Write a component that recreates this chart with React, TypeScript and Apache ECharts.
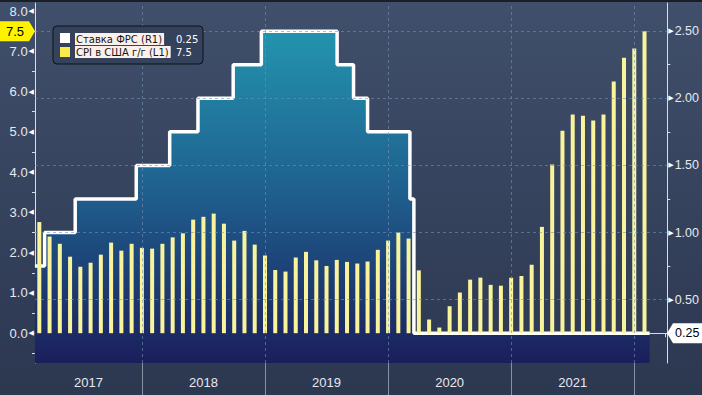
import React, { useEffect, useRef } from 'react';
import * as echarts from 'echarts';

// CPI USA y/y, month-end observations
const cpiMonths: string[] = [
  '2017-02', '2017-03', '2017-04', '2017-05', '2017-06', '2017-07', '2017-08', '2017-09', '2017-10', '2017-11', '2017-12',
  '2018-01', '2018-02', '2018-03', '2018-04', '2018-05', '2018-06', '2018-07', '2018-08', '2018-09', '2018-10', '2018-11', '2018-12',
  '2019-01', '2019-02', '2019-03', '2019-04', '2019-05', '2019-06', '2019-07', '2019-08', '2019-09', '2019-10', '2019-11', '2019-12',
  '2020-01', '2020-02', '2020-03', '2020-04', '2020-05', '2020-06', '2020-07', '2020-08', '2020-09', '2020-10', '2020-11', '2020-12',
  '2021-01', '2021-02', '2021-03', '2021-04', '2021-05', '2021-06', '2021-07', '2021-08', '2021-09', '2021-10', '2021-11', '2021-12',
  '2022-01',
];
const cpiValues: number[] = [
  2.76, 2.40, 2.22, 1.90, 1.65, 1.75, 1.95, 2.25, 2.05, 2.22, 2.12,
  2.10, 2.22, 2.38, 2.48, 2.82, 2.89, 2.97, 2.72, 2.30, 2.54, 2.20, 1.93,
  1.57, 1.53, 1.88, 2.02, 1.81, 1.67, 1.82, 1.77, 1.73, 1.78, 2.07, 2.30,
  2.50, 2.35, 1.56, 0.34, 0.14, 0.67, 1.01, 1.33, 1.38, 1.20, 1.18, 1.38,
  1.42, 1.70, 2.64, 4.19, 5.03, 5.43, 5.40, 5.28, 5.43, 6.25, 6.84, 7.07,
  7.50,
];

// Fed funds rate (upper bound), effective dates
const rateDates: string[] = [
  '2017-02-16', '2017-03-16', '2017-06-15', '2017-12-14', '2018-03-22', '2018-06-14',
  '2018-09-27', '2018-12-20', '2019-08-01', '2019-09-19', '2019-10-31', '2020-03-04',
  '2020-03-16', '2022-02-14',
];
const rateValues: number[] = [
  0.75, 1.0, 1.25, 1.5, 1.75, 2.0,
  2.25, 2.5, 2.25, 2.0, 1.75, 1.25,
  0.25, 0.25,
];

const yearLabels: string[] = ['2017', '2018', '2019', '2020', '2021'];
const leftTickLabels: number[] = [0, 1, 2, 3, 4, 5, 6, 7, 8];
const leftMinorTicks: number[] = [-0.5, 0.5, 1.5, 2.5, 3.5, 4.5, 5.5, 6.5, 7.5];
const rightTickLabels: number[] = [0.5, 1.0, 1.5, 2.0, 2.5];
const rightMinorTicks: number[] = [0.75, 1.25, 1.75, 2.25];
const legendNames: string[] = ['Ставка ФРС (R1)', 'CPI в США г/г (L1)'];
const lastRate = 0.25;
const lastCpi = 7.5;

const FONT = "'Liberation Sans', Arial, sans-serif";
const LEGEND_FONT = "'DejaVu Sans', sans-serif";
const BASE_YEAR = 2017;

// month-end position: Jan 2017 end = 1
function monthPos(ym: string): number {
  const [y, m] = ym.split('-').map(Number);
  return (y - BASE_YEAR) * 12 + m;
}
function datePos(d: string): number {
  const [y, m, day] = d.split('-').map(Number);
  const dim = new Date(y, m, 0).getDate();
  return (y - BASE_YEAR) * 12 + (m - 1) + day / dim;
}

export default function App() {
  const ref = useRef<HTMLDivElement>(null);
  useEffect(() => {
    const el = ref.current!;
    const chart = echarts.init(el, null, { renderer: 'svg' });
    const xMin = 1.58;
    const xMax = 63.22;
    const yMin = -0.74;
    const yMax = 8.2;
    const rMin = 0.25 + 0.3 * yMin;
    const rMax = 0.25 + 0.3 * yMax;

    const yearBounds = yearLabels.map((y) => (Number(y) - BASE_YEAR + 1) * 12);
    const yearCenters = yearLabels.map((y) => {
      const s = Math.max((Number(y) - BASE_YEAR) * 12, xMin);
      const e = Math.min((Number(y) - BASE_YEAR + 1) * 12, xMax);
      return (s + e) / 2;
    });
    const quarterTicks: number[] = [];
    for (let q = 3; q <= xMax; q += 3) quarterTicks.push(q);

    const axisColor = '#d9dde5';
    const labelColor = '#e6e9ef';
    const gridDash = { color: 'rgba(115,145,180,0.6)', width: 1, type: [3, 3] as any };

    const option: any = {
      animation: false,
      backgroundColor: 'transparent',
      grid: { left: 35, right: 34, top: 3, bottom: 32, containLabel: false },
      xAxis: [
        {
          type: 'value', min: xMin, max: xMax, position: 'bottom',
          axisLine: { show: true, lineStyle: { color: axisColor, width: 1 } },
          axisTick: { show: true, customValues: quarterTicks, length: 4, lineStyle: { color: axisColor } },
          axisLabel: { show: false },
          splitLine: { show: false },
        },
        {
          type: 'value', min: xMin, max: xMax, position: 'bottom', offset: 0,
          axisLine: { show: false },
          axisTick: { show: true, customValues: yearBounds, length: 32, lineStyle: { color: '#8891a3', width: 1 } },
          axisLabel: {
            show: true, customValues: yearCenters, margin: 13,
            color: labelColor, fontSize: 13, fontFamily: FONT,
            formatter: (v: number) => String(BASE_YEAR + Math.floor(v / 12)),
          },
          splitLine: { show: false },
        },
      ],
      yAxis: [
        {
          type: 'value', min: yMin, max: yMax, position: 'left',
          axisLine: { show: true, lineStyle: { color: axisColor, width: 1 } },
          axisTick: { show: true, customValues: leftMinorTicks, length: 3, lineStyle: { color: axisColor } },
          axisLabel: {
            show: true, customValues: leftTickLabels, margin: 1,
            formatter: (v: number) => `{n|${v.toFixed(1)}}{t|◀}`,
            rich: {
              n: { color: labelColor, fontSize: 13, fontFamily: FONT },
              t: { color: '#ffffff', fontSize: 7, fontFamily: 'DejaVu Sans', padding: [0, 0, 0, 1] },
            },
          },
          splitLine: { show: false },
        },
        {
          type: 'value', min: rMin, max: rMax, position: 'right',
          axisLine: { show: true, lineStyle: { color: axisColor, width: 1 } },
          axisTick: { show: true, customValues: rightMinorTicks, length: 3, lineStyle: { color: axisColor } },
          axisLabel: {
            show: true, customValues: rightTickLabels, margin: 1,
            formatter: (v: number) => `{t|▶}{n|${v.toFixed(2)}}`,
            rich: {
              n: { color: labelColor, fontSize: 12.5, fontFamily: FONT },
              t: { color: '#ffffff', fontSize: 7, fontFamily: 'DejaVu Sans', padding: [0, 1, 0, 0] },
            },
          },
          splitLine: { show: false },
        },
      ],
      series: [
        {
          name: legendNames[0],
          type: 'line',
          xAxisIndex: 0,
          yAxisIndex: 1,
          step: 'end',
          symbol: 'none',
          z: 1,
          data: rateDates.map((d, i) => [datePos(d), rateValues[i]]),
          lineStyle: { color: '#ffffff', width: 3.5 },
          areaStyle: {
            origin: 'start',
            opacity: 1,
            color: {
              type: 'linear', x: 0, y: 0, x2: 0, y2: 1,
              colorStops: [
                { offset: 0, color: '#2394ae' },
                { offset: 0.45, color: '#1f6391' },
                { offset: 1, color: '#1b1f5c' },
              ],
            },
          },
          markLine: {
            silent: true,
            symbol: ['none', 'none'],
            label: { show: false },
            lineStyle: gridDash,
            data: [
              ...rightTickLabels.map((v) => ({ yAxis: v })),
              ...yearBounds.map((v) => ({ xAxis: v })),
            ],
          },
        },
        {
          name: legendNames[1],
          type: 'bar',
          xAxisIndex: 0,
          yAxisIndex: 0,
          z: 3,
          barWidth: 4,
          itemStyle: { color: '#f9f49c' },
          data: cpiMonths.map((m, i) => [monthPos(m), cpiValues[i]]),
        },
      ],
    };
    chart.setOption(option);

    const yCpi = chart.convertToPixel({ yAxisIndex: 0 }, lastCpi) as number;
    const yRate = chart.convertToPixel({ yAxisIndex: 1 }, lastRate) as number;

    chart.setOption({
      graphic: [
        { type: 'rect', left: 0, top: 0, z: 100, shape: { width: 702, height: 2 }, style: { fill: '#1b1e25' } },
        // legend
        {
          type: 'rect', z: 100, shape: { x: 53, y: 26, width: 150, height: 38, r: 4 },
          style: { fill: '#35425c', stroke: '#0e1218', lineWidth: 1 },
        },
        { type: 'rect', z: 101, shape: { x: 60, y: 33, width: 10, height: 10 }, style: { fill: '#ffffff' } },
        { type: 'rect', z: 101, shape: { x: 60, y: 47, width: 10, height: 10 }, style: { fill: '#fce94a' } },
        {
          type: 'text', z: 101,
          style: {
            x: 75, y: 39, text: legendNames[0], fill: '#151515', font: `10px ${LEGEND_FONT}`,
            verticalAlign: 'middle', backgroundColor: '#fdf0ea', padding: [1, 2, 1, 1],
          },
        },
        {
          type: 'text', z: 101,
          style: {
            x: 75, y: 52, text: legendNames[1], fill: '#151515', font: `10px ${LEGEND_FONT}`,
            verticalAlign: 'middle', backgroundColor: '#fdf0ea', padding: [1, 2, 1, 1],
          },
        },
        {
          type: 'text', z: 101,
          style: { x: 176, y: 39, text: lastRate.toFixed(2), fill: '#ffffff', font: `10px ${LEGEND_FONT}`, verticalAlign: 'middle' },
        },
        {
          type: 'text', z: 101,
          style: { x: 176, y: 52, text: lastCpi.toFixed(1), fill: '#ffffff', font: `10px ${LEGEND_FONT}`, verticalAlign: 'middle' },
        },
        // last-value tags
        {
          type: 'polygon', z: 102,
          shape: { points: [[0, yCpi - 10], [29, yCpi - 10], [35, yCpi], [29, yCpi + 10], [0, yCpi + 10]] },
          style: { fill: '#fff200' },
        },
        {
          type: 'text', z: 103,
          style: { x: 15, y: yCpi, text: lastCpi.toFixed(1), fill: '#000000', font: `13px ${FONT}`, align: 'center', verticalAlign: 'middle' },
        },
        {
          type: 'polygon', z: 102,
          shape: { points: [[667, yRate], [673, yRate - 10], [702, yRate - 10], [702, yRate + 10], [673, yRate + 10]] },
          style: { fill: '#ffffff' },
        },
        {
          type: 'text', z: 103,
          style: { x: 675, y: yRate, text: lastRate.toFixed(2), fill: '#000000', font: `12.5px ${FONT}`, verticalAlign: 'middle' },
        },
      ],
    });

    return () => chart.dispose();
  }, []);

  return (
    <div
      ref={ref}
      style={{
        position: 'absolute', left: 0, top: 0, width: 702, height: 395,
        background: 'linear-gradient(#404f6b, #2c3750)',
      }}
    />
  );
}
